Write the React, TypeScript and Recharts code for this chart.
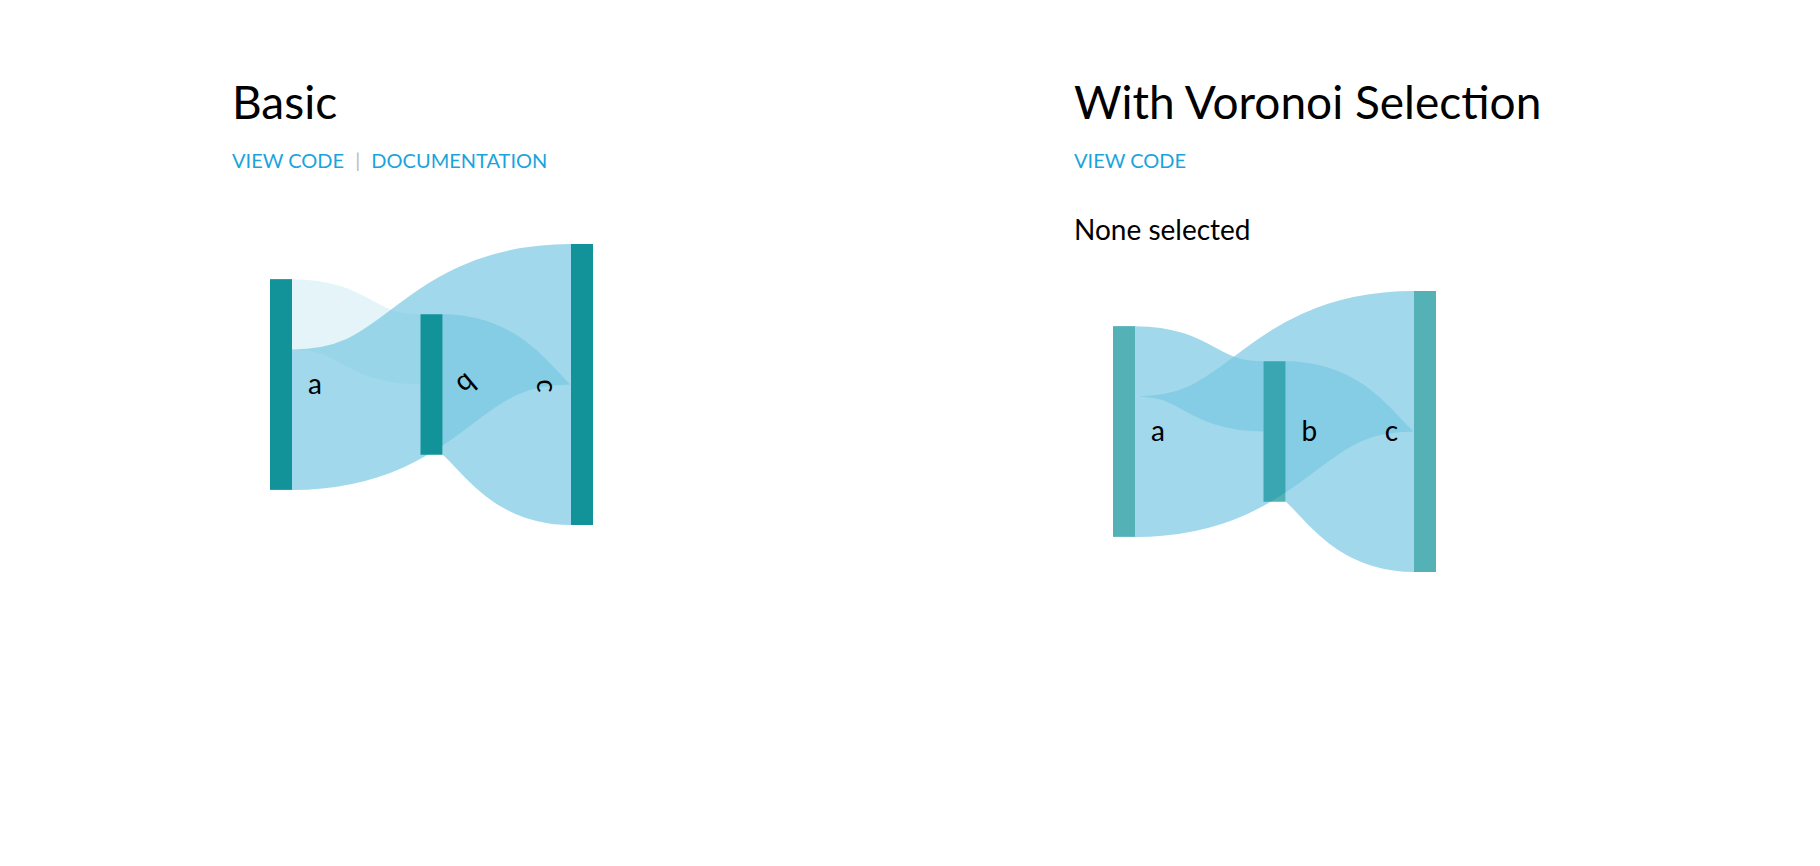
import React from 'react';
import { Sankey } from 'recharts';

const nodeNames = ['a', 'b', 'c'];
const linkSources = [0, 0, 1];
const linkTargets = [1, 2, 2];
const linkValues = [10, 20, 20];
const linkOpacityBasic = [0.2, 0.7, 0.7];
const linkOpacityVoronoi = [0.7, 0.7, 0.7];

const data = {
  nodes: nodeNames.map((name) => ({ name })),
  links: linkSources.map((s, i) => ({ source: s, target: linkTargets[i], value: linkValues[i], idx: i })),
};

const W = 323;
const H = 281;
const FONT = 'Lato, "Noto Sans", sans-serif';

const offsetOf = (y: number, h: number) => (H - h) / 2 - y;

function makeNode(nodeOpacity: number, rotated: boolean) {
  return (props: any) => {
    const { x, y, width, height, payload } = props;
    const off = offsetOf(y, height);
    const ny = y + off;
    const name = payload.name;
    const cy = ny + height / 2;
    let lx = x + width + 16;
    let anchor: any = 'start';
    if (name === 'c') { lx = x - 16; anchor = 'end'; }
    let rot = 0;
    if (rotated && name === 'b') rot = 140;
    if (rotated && name === 'c') rot = 90;
    return (
      <g>
        <rect x={x} y={ny} width={width} height={height} fill="#12939A" fillOpacity={nodeOpacity} />
        <text x={lx} y={cy} textAnchor={anchor} dy="0.35em" fontSize={28} fontFamily={FONT} fill="#000"
          transform={rot ? `rotate(${rot} ${lx - (name === 'c' ? 8 : -8)} ${cy})` : undefined}>{name}</text>
      </g>
    );
  };
}

function makeLink(opac: number[]) {
  return (props: any) => {
    const { sourceX, targetX, sourceY, targetY, sourceControlX, targetControlX, linkWidth, payload } = props;
    const s = payload.source;
    const t = payload.target;
    const so = offsetOf(s.y, s.dy);
    const to = offsetOf(t.y, t.dy);
    const sy = sourceY + so;
    const ty = targetY + to;
    const i = payload.idx ?? 0;
    return (
      <path
        d={`M${sourceX},${sy} C${sourceControlX},${sy} ${targetControlX},${ty} ${targetX},${ty}`}
        fill="none" stroke="#79C7E3" strokeOpacity={opac[i]} strokeWidth={linkWidth}
      />
    );
  };
}

const linkStyle: React.CSSProperties = { color: '#1aa4dc', fontSize: 20, fontFamily: FONT, textDecoration: 'none' };

export default function App() {
  return (
    <div style={{ position: 'relative', width: 1820, height: 866, margin: -8, background: '#fff', fontFamily: FONT }}>
      <div style={{ position: 'absolute', left: 232, top: 74, fontSize: 46 }}>Basic</div>
      <div style={{ position: 'absolute', left: 232, top: 148, ...linkStyle }}>
        VIEW CODE <span style={{ color: '#bbb', margin: '0 6px' }}>|</span> DOCUMENTATION
      </div>
      <div style={{ position: 'absolute', left: 1074, top: 74, fontSize: 46 }}>With Voronoi Selection</div>
      <div style={{ position: 'absolute', left: 1074, top: 148, ...linkStyle }}>VIEW CODE</div>
      <div style={{ position: 'absolute', left: 1074, top: 212, fontSize: 28 }}>None selected</div>

      <div style={{ position: 'absolute', left: 270, top: 244 }}>
        <Sankey width={W} height={H} data={data} nodeWidth={22} nodePadding={10} iterations={0}
          margin={{ top: 0, right: 0, bottom: 0, left: 0 }}
          node={makeNode(1, true)} link={makeLink(linkOpacityBasic)} />
      </div>
      <div style={{ position: 'absolute', left: 1113, top: 291 }}>
        <Sankey width={W} height={H} data={data} nodeWidth={22} nodePadding={10} iterations={0}
          margin={{ top: 0, right: 0, bottom: 0, left: 0 }}
          node={makeNode(0.72, false)} link={makeLink(linkOpacityVoronoi)} />
      </div>
    </div>
  );
}
